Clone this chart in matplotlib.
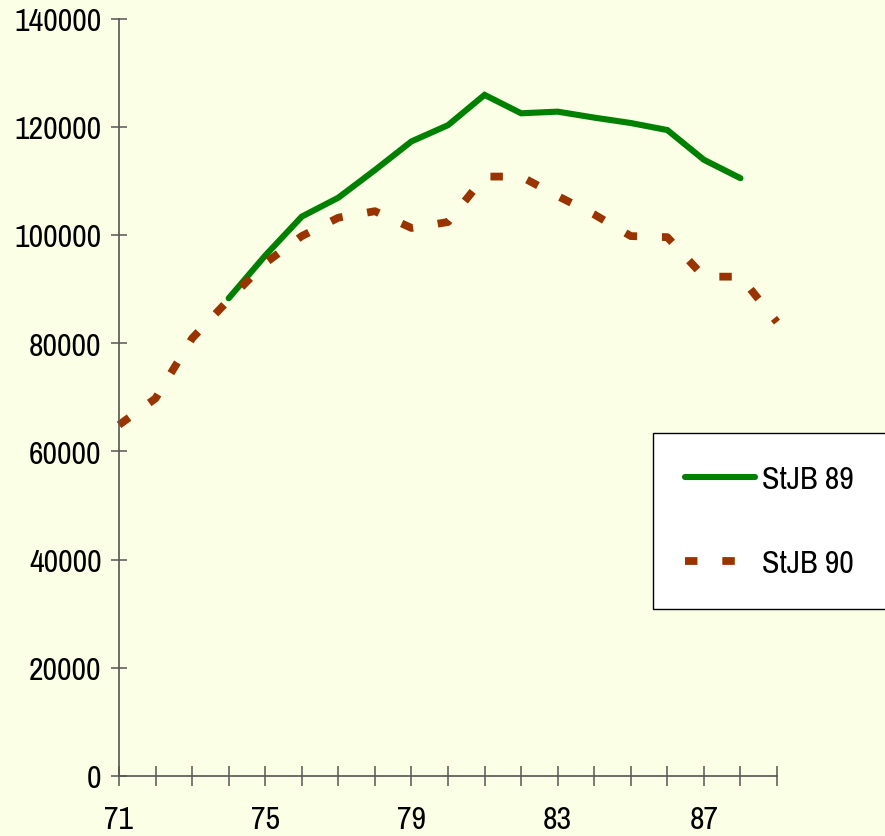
import matplotlib
matplotlib.use('Agg')
import matplotlib.pyplot as plt

# data
years_89 = list(range(74, 89))
stjb_89 = [88300, 96200, 103400, 106900, 112000, 117300, 120300, 125900,
           122500, 122800, 121700, 120700, 119400, 113900, 110500]

years_90 = list(range(71, 90))
stjb_90 = [64900, 69800, 80900, 88000, 94800, 99800, 103200, 104400, 101300,
           102400, 110800, 110800, 107200, 103800, 99800, 99600, 92300, 92300, 83900]

xticks = list(range(71, 90))
xlabels = [str(y) if (y - 71) % 4 == 0 else '' for y in xticks]
yticks = list(range(0, 140001, 20000))

bg = '#FBFFE6'
green = '#008000'
brown = '#993300'
axis_col = '#555555'

plt.rcParams['font.family'] = ['Archivo Narrow', 'DejaVu Sans']

fig = plt.figure(figsize=(8.85, 8.37), dpi=100, facecolor=bg)
ax = fig.add_axes([119 / 885, 60 / 837, (777 - 119) / 885, (777.7 - 20.3) / 837])
ax.set_facecolor(bg)

ax.plot(years_89, stjb_89, color=green, lw=4.4, solid_capstyle='round',
        solid_joinstyle='miter', label='StJB 89', clip_on=False)
ax.plot(years_90, stjb_90, color=brown, lw=5.6, dashes=(1.6, 3.2),
        dash_capstyle='butt', label='StJB 90', clip_on=False)

ax.set_xlim(71, 89)
ax.set_ylim(0, 140000)
ax.set_xticks(xticks)
ax.set_xticklabels(xlabels)
ax.set_yticks(yticks)
ax.set_yticklabels([str(v) for v in yticks])

for s in ['top', 'right']:
    ax.spines[s].set_visible(False)
for s in ['left', 'bottom']:
    ax.spines[s].set_color(axis_col)
    ax.spines[s].set_linewidth(1.2)

ax.tick_params(axis='x', direction='inout', length=14, width=1.1, color=axis_col,
               labelsize=23, pad=14)
ax.tick_params(axis='y', direction='inout', length=11, width=1.1, color=axis_col,
               labelsize=23, pad=7)

leg = ax.legend(loc='upper left', bbox_to_anchor=(653 / 885, 1 - 434 / 837, 0.3, 0.0),
                bbox_transform=fig.transFigure, mode='expand', borderaxespad=0,
                fontsize=23, handlelength=2.2, handletextpad=0.2, labelspacing=1.75,
                borderpad=1.0, fancybox=False, framealpha=1, edgecolor='black')
leg.get_frame().set_linewidth(1.0)
leg.get_frame().set_facecolor('white')

fig.savefig('out.png', dpi=100, facecolor=bg)
